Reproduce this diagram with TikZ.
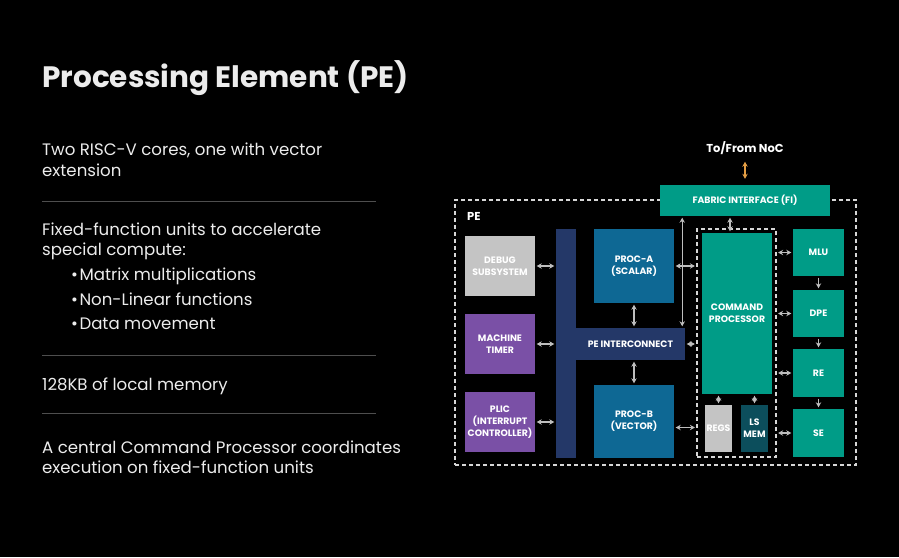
\documentclass[tikz,border=0pt]{standalone}
\usepackage{fontspec}
\setmainfont{Poppins}
\usetikzlibrary{arrows.meta,positioning,backgrounds,fit}
\definecolor{ink}{RGB}{236,236,236}
\definecolor{rulec}{RGB}{78,78,78}
\definecolor{fab}{RGB}{0,156,135}
\definecolor{procc}{RGB}{14,104,148}
\definecolor{busc}{RGB}{36,56,104}
\definecolor{ctlc}{RGB}{122,80,166}
\definecolor{dbgc}{RGB}{196,196,196}
\definecolor{lsmc}{RGB}{12,78,92}
\definecolor{arw}{RGB}{190,190,190}
\definecolor{noc}{RGB}{228,158,68}
\definecolor{dashc}{RGB}{214,214,214}

\begin{document}
\begin{tikzpicture}[
  x=1pt, y=-1pt,
  every node/.style={inner sep=0pt},
  txt/.style={anchor=base west, text=ink, font=\fontsize{16.6}{19}\selectfont},
  blk/.style={align=center, text=white, font=\fontsize{9.3}{12}\selectfont\bfseries},
  pebox/.style={draw=dashc, line width=1.4pt, dash pattern=on 4pt off 3pt},
  duo/.style={{Stealth[length=5pt,width=5.4pt]}-{Stealth[length=5pt,width=5.4pt]},
              line width=1.2pt, arw, shorten <=1.5pt, shorten >=1.5pt},
  one/.style={-{Stealth[length=5pt,width=5.4pt]}, line width=1.2pt, arw,
              shorten <=1.5pt, shorten >=1.5pt},
]
\fill[black] (0,0) rectangle (899,557);
\useasboundingbox (0,0) rectangle (899,557);

%% ---- Left column: title and notes ----
\node[txt, font=\fontsize{29.5}{33}\selectfont\bfseries] (title) at (42,87) {Processing Element (PE)};

\node[txt] (n1a) at (42,155) {Two RISC-V cores, one with vector};
\node[txt] (n1b) at (42,176) {extension};
\draw[rulec, line width=1pt] (42,201) -- (376,201);

\node[txt] (n2a) at (42,235) {Fixed-function units to accelerate};
\node[txt] (n2b) at (42,255) {special compute:};
\node[txt] (b1) at (71,280) {•\hspace{1.5pt}Matrix multiplications};
\node[txt] (b2) at (71,305) {•\hspace{1.5pt}Non-Linear functions};
\node[txt] (b3) at (71,329) {•\hspace{1.5pt}Data movement};
\draw[rulec, line width=1pt] (42,355) -- (376,355);

\node[txt] (n3) at (42,390) {128KB of local memory};
\draw[rulec, line width=1pt] (42,413) -- (376,413);

\node[txt] (n4a) at (42,453) {A central Command Processor coordinates};
\node[txt] (n4b) at (42,473) {execution on fixed-function units};

%% =========================================================
%% PE block diagram
%% =========================================================
\node[pebox, minimum width=401pt, minimum height=265pt] (pe) at (655.5,332.5) {};
\node[anchor=west, text=white, font=\fontsize{11.5}{13}\selectfont\bfseries] (pelbl) at (467,216) {PE};

\node[blk, fill=fab, minimum width=170pt, minimum height=31pt] (fi) at (745,200.5) {FABRIC INTERFACE (FI)};
\node[text=white, font=\fontsize{11.5}{13}\selectfont\bfseries] (noclbl) at (745,148) {To/From NoC};
\draw[{Stealth[length=5pt,width=5.4pt]}-{Stealth[length=5pt,width=5.4pt]}, line width=1.5pt, noc]
  ([yshift=-7pt]noclbl.south) -- ([yshift=6pt]fi.north);

%% peripherals on the left
\node[blk, fill=dbgc, minimum width=70pt, minimum height=60pt] (dbg) at (500,266) {DEBUG\\SUBSYSTEM};
\node[blk, fill=ctlc, minimum width=70pt, minimum height=60pt] (timer) at (500,344) {MACHINE\\TIMER};
\node[blk, fill=ctlc, minimum width=70pt, minimum height=60pt] (plic) at (500,422) {PLIC\\(INTERRUPT\\CONTROLLER)};

%% interconnect
\node[fill=busc, minimum width=20pt, minimum height=229pt] (bar) at (566,343.5) {};
\node[blk, fill=busc, minimum width=109pt, minimum height=32pt] (pei) at (630.5,344) {PE INTERCONNECT};

%% cores
\node[blk, fill=procc, minimum width=80pt, minimum height=74pt] (procA) at (634,266) {PROC-A\\(SCALAR)};
\node[blk, fill=procc, minimum width=80pt, minimum height=73pt] (procB) at (634,421.5) {PROC-B\\(VECTOR)};

%% command processor group
\node[pebox, line width=1.2pt, minimum width=79pt, minimum height=228pt] (cpbox) at (736.5,343) {};
\node[blk, fill=fab, minimum width=70pt, minimum height=161pt] (cp) at (737,313.5) {COMMAND\\PROCESSOR};
\node[blk, fill=dbgc, minimum width=27pt, minimum height=47pt] (regs) at (718.5,428.5) {REGS};
\node[blk, fill=lsmc, minimum width=27pt, minimum height=47pt] (lsm) at (754.5,428.5) {LS\\MEM};

%% fixed-function units
\node[blk, fill=fab, minimum width=51pt, minimum height=47pt] (mlu) at (818.5,252.5) {MLU};
\node[blk, fill=fab, minimum width=51pt, minimum height=47pt] (dpe) at (818.5,313.5) {DPE};
\node[blk, fill=fab, minimum width=51pt, minimum height=48pt] (re) at (818.5,373) {RE};
\node[blk, fill=fab, minimum width=51pt, minimum height=48pt] (se) at (818.5,433) {SE};

%% ---- connectors ----
\draw[duo] (dbg.east) -- (dbg.east -| bar.west);
\draw[duo] (timer.east) -- (timer.east -| bar.west);
\draw[duo] (plic.east) -- (plic.east -| bar.west);

\draw[duo] (procA.south) -- (procA.south |- pei.north);
\draw[duo] (procB.north) -- (procB.north |- pei.south);

\coordinate (vx) at ([xshift=-3pt]pei.north east);
\draw[duo] (fi.south -| vx) -- (vx);
\draw[duo] (procA.east) -- (procA.east -| cpbox.west);
\draw[duo] (pei.east) -- (pei.east -| cpbox.west);
\draw[duo] ([yshift=-6pt]procB.east) -- ([yshift=-6pt]procB.east -| cpbox.west);

\coordinate (fx) at ([xshift=-7pt]cp.north);
\draw[duo] (fi.south -| fx) -- (fx);
\draw[duo] (regs.north) -- (regs.north |- cp.south);
\draw[duo] (lsm.north) -- (lsm.north |- cp.south);

\draw[duo] (cpbox.east |- mlu.west) -- (mlu.west);
\draw[duo] (cpbox.east |- dpe.west) -- (dpe.west);
\draw[duo] (cpbox.east |- re.west) -- (re.west);
\draw[duo] (cpbox.east |- se.west) -- (se.west);

\draw[one] (mlu.south) -- (dpe.north);
\draw[one] (dpe.south) -- (re.north);
\draw[one] (re.south) -- (se.north);

\end{tikzpicture}
\end{document}
